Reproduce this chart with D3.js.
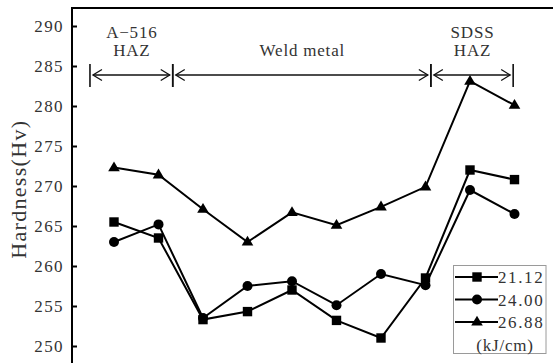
<!DOCTYPE html>
<html>
<head>
<meta charset="utf-8">
<script src="https://cdn.jsdelivr.net/npm/d3@7"></script>
<style>
  html, body { margin: 0; padding: 0; background: #fff; }
  svg { display: block; }
  text { font-family: "Liberation Serif", "DejaVu Serif", serif; fill: #333; }
</style>
</head>
<body>
<svg id="chart" width="553" height="363"></svg>
<script>
// Measurement positions across the weld (1 … 10)
const positions = [1, 2, 3, 4, 5, 6, 7, 8, 9, 10];

// Hardness (Hv) for each heat input
const hv2112 = [265.5, 263.5, 253.3, 254.3, 257.0, 253.2, 251.0, 258.5, 272.0, 270.8];
const hv2400 = [263.0, 265.2, 253.5, 257.5, 258.1, 255.1, 259.0, 257.6, 269.5, 266.5];
const hv2688 = [272.3, 271.4, 267.1, 263.0, 266.7, 265.1, 267.4, 269.9, 283.1, 280.1];

const seriesNames = ["21.12", "24.00", "26.88"];
const seriesSymbols = ["square", "circle", "triangle"];
const legendUnit = "(kJ/cm)";

const yTicks = [250, 255, 260, 265, 270, 275, 280, 285, 290];
const yTitle = "Hardness(Hv)";

// Zones across the weld, bounds in position units
const zoneLines1 = ["A\u2212516", "", "SDSS"];
const zoneLines2 = ["HAZ", "Weld metal", "HAZ"];
const zoneStart = [0.46, 2.32, 8.12];
const zoneEnd = [2.32, 8.12, 9.97];

const svg = d3.select("#chart");

const x = d3.scaleLinear().domain([1, 10]).range([114, 514.5]);
const y = d3.scaleLinear().domain([250, 290]).range([346, 26]);
const axisX = 72;
const frameTop = y(292.25);

// Frame: top border and left axis with inward ticks
svg.append("line")
  .attr("x1", axisX).attr("x2", 553)
  .attr("y1", frameTop).attr("y2", frameTop)
  .attr("stroke", "#000").attr("stroke-width", 2);

const yAxis = d3.axisLeft(y).tickValues(yTicks).tickSizeInner(-5).tickSizeOuter(0).tickPadding(8);
const gy = svg.append("g").attr("transform", `translate(${axisX},0)`).call(yAxis);
gy.select(".domain").remove();
gy.selectAll(".tick line").attr("stroke", "#000").attr("stroke-width", 2);
gy.selectAll(".tick text")
  .attr("font-family", "Liberation Serif, serif")
  .attr("font-size", 17).attr("letter-spacing", 1.4).attr("fill", "#333");
svg.append("line")
  .attr("x1", axisX).attr("x2", axisX)
  .attr("y1", frameTop - 1).attr("y2", 363)
  .attr("stroke", "#000").attr("stroke-width", 2);

svg.append("text")
  .attr("transform", `translate(26,${y(269.6)}) rotate(-90)`)
  .attr("text-anchor", "middle")
  .attr("font-size", 22).attr("letter-spacing", 1.3)
  .text(yTitle);

// Zone annotations with double-headed arrows
const arrowY = 75;
const barTop = 64, barBottom = 87;
const head = 9, halfH = 5.5, gap = 3;
zoneStart.forEach((s, i) => {
  const x0 = x(s), x1 = x(zoneEnd[i]);
  const g = svg.append("g").attr("stroke", "#111").attr("fill", "none").attr("stroke-width", 1.3);
  [x0, x1].forEach(bx => g.append("line")
    .attr("x1", bx).attr("x2", bx).attr("y1", barTop).attr("y2", barBottom)
    .attr("stroke-width", 1.6));
  const a = x0 + gap, b = x1 - gap;
  g.append("line").attr("x1", a).attr("x2", b).attr("y1", arrowY).attr("y2", arrowY);
  g.append("path").attr("d", `M${a + head},${arrowY - halfH}L${a},${arrowY}L${a + head},${arrowY + halfH}`);
  g.append("path").attr("d", `M${b - head},${arrowY - halfH}L${b},${arrowY}L${b - head},${arrowY + halfH}`);
  const cx = (x0 + x1) / 2 + 0.5;
  if (zoneLines1[i]) {
    svg.append("text").attr("x", cx).attr("y", 38)
      .attr("text-anchor", "middle").attr("font-size", 17).attr("letter-spacing", 0.8).text(zoneLines1[i]);
  }
  svg.append("text").attr("x", cx).attr("y", 56)
    .attr("text-anchor", "middle").attr("font-size", 17).attr("letter-spacing", 0.8).text(zoneLines2[i]);
});

// Marker shapes
function drawMarker(g, kind, cx, cy) {
  if (kind === "square") {
    g.append("rect").attr("x", cx - 4.7).attr("y", cy - 4.7).attr("width", 9.4).attr("height", 9.4).attr("fill", "#000");
  } else if (kind === "circle") {
    g.append("circle").attr("cx", cx).attr("cy", cy).attr("r", 5).attr("fill", "#000");
  } else {
    g.append("path").attr("d", `M${cx},${cy - 6.2}L${cx + 5.8},${cy + 3.6}L${cx - 5.8},${cy + 3.6}Z`).attr("fill", "#000");
  }
}

const allSeries = [hv2112, hv2400, hv2688];
const line = d3.line().x((d, i) => x(positions[i])).y(d => y(d));
allSeries.forEach((vals, k) => {
  const g = svg.append("g");
  g.append("path").datum(vals).attr("d", line)
    .attr("fill", "none").attr("stroke", "#000").attr("stroke-width", 2);
  vals.forEach((v, i) => drawMarker(g, seriesSymbols[k], x(positions[i]), y(v)));
});

// Legend
const lg = svg.append("g");
lg.append("rect").attr("x", 453.5).attr("y", 265.5).attr("width", 92.5).attr("height", 88)
  .attr("fill", "#fff").attr("stroke", "#9a9a9a").attr("stroke-width", 1);
const rowY = [277, 299.5, 322];
seriesNames.forEach((name, k) => {
  const cy = rowY[k];
  lg.append("line").attr("x1", 455).attr("x2", 498).attr("y1", cy).attr("y2", cy)
    .attr("stroke", "#000").attr("stroke-width", 2);
  drawMarker(lg, seriesSymbols[k], 477, cy);
  lg.append("text").attr("x", 498).attr("y", cy + 6).attr("font-size", 17)
    .attr("letter-spacing", 1.6).text(name);
});
lg.append("text").attr("x", 505).attr("y", 351).attr("text-anchor", "middle")
  .attr("font-size", 17).attr("letter-spacing", 0.8).text(legendUnit);
</script>
</body>
</html>
